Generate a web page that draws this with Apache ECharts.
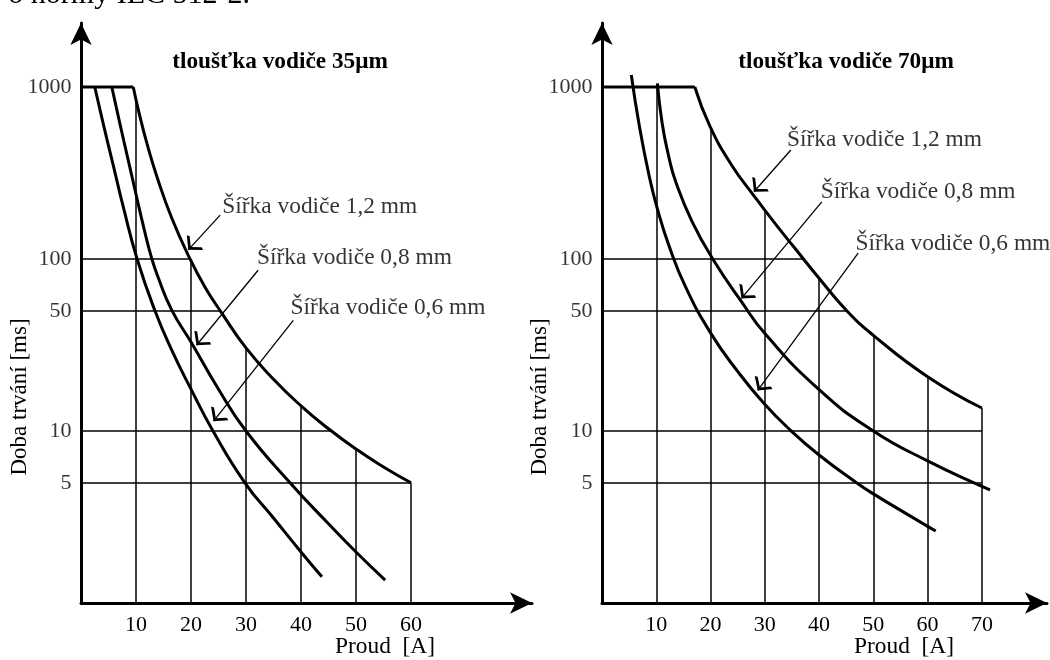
<!DOCTYPE html>
<html><head><meta charset="utf-8">
<script src="https://cdn.jsdelivr.net/npm/echarts@6/dist/echarts.min.js"></script>
<style>html,body{margin:0;padding:0;background:#fff}#c{width:1050px;height:660px}</style>
</head><body><div id="c"></div>
<script>
// ---------- data ----------
const xTicks35 = [10, 20, 30, 40, 50, 60];
const xTicks70 = [10, 20, 30, 40, 50, 60, 70];
const yTicks = [1000, 100, 50, 10, 5];
const limitMs = 1000;

const titles = ['tloušťka vodiče 35\u03bcm', 'tloušťka vodiče 70\u03bcm'];
const curveNames = ['Šířka vodiče 1,2 mm', 'Šířka vodiče 0,8 mm', 'Šířka vodiče 0,6 mm'];
const yName = 'Doba trvání [ms]';
const xName = 'Proud  [A]';
const headerText = 'o normy IEC 512-2.';

// 35 µm copper: [current A, duration ms]
const w12_35 = [[9.5,1000],[10.5,720],[12,468],[14,288],[16.5,173],[19.5,105],[22.5,69],[25.6,48.5],[30,30.4],[35,20],[40,14],[45,10.3],[50,7.85],[55,6.18],[60,5]];
const w08_35 = [[5.6,1000],[7,627],[8.5,386],[10,238],[11.5,148],[12.7,105],[14,78.5],[16.5,50.4],[20,32.9],[25,17.5],[30,10],[38,5],[45,2.89],[50,1.98],[55.3,1.36]];
const w06_35 = [[2.5,1000],[4.1,600],[5.9,347],[7.7,200],[10.2,100],[13.45,50],[16.5,29.5],[20,17.5],[24,10],[29.8,5],[35,3.12],[40,1.98],[43.8,1.42]];

// 70 µm copper
const w12_70 = [[17.1,1000],[19.9,590],[23.9,351],[28,233],[31.8,162],[35.4,117],[40,77.3],[45.1,50],[50,36],[60,20.7],[70,13.6]];
const w08_70 = [[10.2,1050],[11.1,612],[12.3,394],[13.6,280],[16.6,165],[20.5,99],[25.7,56.5],[30.1,36.6],[40,17.4],[50,10],[60,6.7],[70,4.76],[71.5,4.54]];
const w06_70 = [[5.4,1175],[6.9,589],[8.7,303],[10.2,196],[12.4,118],[15.4,68.8],[20,37.2],[25,22.2],[29.9,14.4],[34.8,10.06],[40,7.25],[46.9,5],[50,4.31],[60,2.79],[61.5,2.62]];

// annotation anchors in data coordinates (1,2 / 0,8 / 0,6 mm)
const noteText35 = [[25.6,201],[31.9,101],[38,51.7]];
const noteFrom35 = [[25.3,180],[32.2,86],[38.6,44]];
const noteTo35   = [[19.5,113],[21.0,31.5],[24.1,11.4]];
const noteText70 = [[34,492],[40.2,246],[46.6,123]];
const noteFrom70 = [[34.8,430],[40.5,215],[47.2,108]];
const noteTo70   = [[28,246],[25.7,59],[28.7,17.2]];

// ---------- helpers ----------
const FONT = '"Liberation Serif","Times New Roman",serif';
const lg = Math.log10;
function envAtX(env, x) {
  for (let i = 0; i < env.length - 1; i++) {
    const a = env[i], b = env[i + 1];
    if (x >= a[0] && x <= b[0]) {
      const t = (x - a[0]) / (b[0] - a[0]);
      return Math.pow(10, lg(a[1]) + t * (lg(b[1]) - lg(a[1])));
    }
  }
  return env[env.length - 1][1];
}
function envAtY(env, y) {
  for (let i = env.length - 2; i >= 0; i--) {
    const a = env[i], b = env[i + 1];
    if (a[1] >= y && y >= b[1] && a[1] !== b[1]) {
      const t = (lg(a[1]) - lg(y)) / (lg(a[1]) - lg(b[1]));
      return a[0] + t * (b[0] - a[0]);
    }
  }
  return env[env.length - 1][0];
}
const CHEVRON = 'path://M5,0L5,0.01M5,10L10,19L8.7,20L5,13.4L1.3,20L0,19Z';

function panel(i, xt, curves, nText, nFrom, nTo) {
  const env = [[0, limitMs]].concat(curves[0]);
  const segs = [];
  xt.forEach(v => segs.push({coords: [[v, 1], [v, envAtX(env, v)]]}));
  yTicks.forEach(t => segs.push({coords: [[0, t], [envAtY(env, t), t]]}));
  const base = {xAxisIndex: i, yAxisIndex: i, silent: true, animation: false};
  const s = [];
  s.push(Object.assign({type: 'lines', coordinateSystem: 'cartesian2d', polyline: false,
    lineStyle: {color: '#000', width: 1.5, opacity: 1, curveness: 0}, data: segs}, base));
  s.push(Object.assign({type: 'line', data: [[0, limitMs], [curves[0][0][0], limitMs]],
    showSymbol: false, lineStyle: {color: '#000', width: 3}}, base));
  curves.forEach((c, k) => s.push(Object.assign({type: 'line', name: curveNames[k], data: c,
    smooth: 0.5, showSymbol: false, lineStyle: {color: '#000', width: 3, cap: 'butt'}}, base)));
  s.push(Object.assign({type: 'lines', coordinateSystem: 'cartesian2d', polyline: false,
    symbol: ['none', CHEVRON], symbolSize: [11, 22],
    lineStyle: {color: '#000', width: 1.3, opacity: 1, curveness: 0},
    data: nFrom.map((f, k) => ({coords: [f, nTo[k]]}))}, base));
  s.push(Object.assign({type: 'scatter', clip: false, symbolSize: 1, itemStyle: {color: 'rgba(0,0,0,0)'},
    label: {show: true, position: 'right', distance: 0, color: '#000', fontFamily: FONT, fontSize: 23.4,
      formatter: p => curveNames[p.dataIndex]},
    data: nText}, base));
  s.push(Object.assign({type: 'scatter', clip: false, symbolSize: 1, itemStyle: {color: 'rgba(0,0,0,0)'},
    label: {show: true, position: 'left', distance: 9, color: '#000', fontFamily: FONT, fontSize: 22,
      formatter: p => String(p.value[1])},
    data: yTicks.map(t => [0, t])}, base));
  return s;
}

const gridL = [81, 602];
const axisLineStyle = {show: true, onZero: false, lineStyle: {color: '#000', width: 3},
  symbol: ['none', 'arrow'], symbolSize: [16, 22]};

const option = {
  backgroundColor: '#fff',
  animation: false,
  grid: gridL.map(l => ({left: l, top: 23, width: 451, height: 580})),
  xAxis: [xTicks35, xTicks70].map((xt, i) => ({
    gridIndex: i, type: 'value', min: 0, max: 82, interval: 10,
    axisLine: axisLineStyle, axisTick: {show: false}, splitLine: {show: false},
    axisLabel: {color: '#000', fontFamily: FONT, fontSize: 22, margin: 11,
      formatter: v => xt.indexOf(v) >= 0 ? String(v) : ''}
  })),
  yAxis: [0, 1].map(i => ({
    gridIndex: i, type: 'log', logBase: 10, min: 1, max: 2355,
    axisLine: axisLineStyle, axisTick: {show: false}, splitLine: {show: false},
    axisLabel: {show: false}
  })),
  series: [].concat(
    panel(0, xTicks35, [w12_35, w08_35, w06_35], noteText35, noteFrom35, noteTo35),
    panel(1, xTicks70, [w12_70, w08_70, w06_70], noteText70, noteFrom70, noteTo70)
  ),
  graphic: [
    {type: 'text', x: 250, y: -5, style: {text: headerText, font: '30px ' + FONT, fill: '#000', align: 'right', verticalAlign: 'middle'}},
    {type: 'text', x: 280, y: 62, style: {text: titles[0], font: 'bold 23.3px ' + FONT, fill: '#000', align: 'center', verticalAlign: 'middle'}},
    {type: 'text', x: 846, y: 62, style: {text: titles[1], font: 'bold 23.3px ' + FONT, fill: '#000', align: 'center', verticalAlign: 'middle'}},
    {type: 'text', x: 20, y: 397, rotation: Math.PI / 2, style: {text: yName, font: '23px ' + FONT, fill: '#000', align: 'center', verticalAlign: 'middle'}},
    {type: 'text', x: 540, y: 397, rotation: Math.PI / 2, style: {text: yName, font: '23px ' + FONT, fill: '#000', align: 'center', verticalAlign: 'middle'}},
    {type: 'text', x: 385, y: 647, style: {text: xName, font: '23.4px ' + FONT, fill: '#000', align: 'center', verticalAlign: 'middle'}},
    {type: 'text', x: 904, y: 647, style: {text: xName, font: '23.4px ' + FONT, fill: '#000', align: 'center', verticalAlign: 'middle'}}
  ]
};
const chart = echarts.init(document.getElementById('c'), null, {renderer: 'canvas'});
chart.setOption(option);
</script></body></html>
